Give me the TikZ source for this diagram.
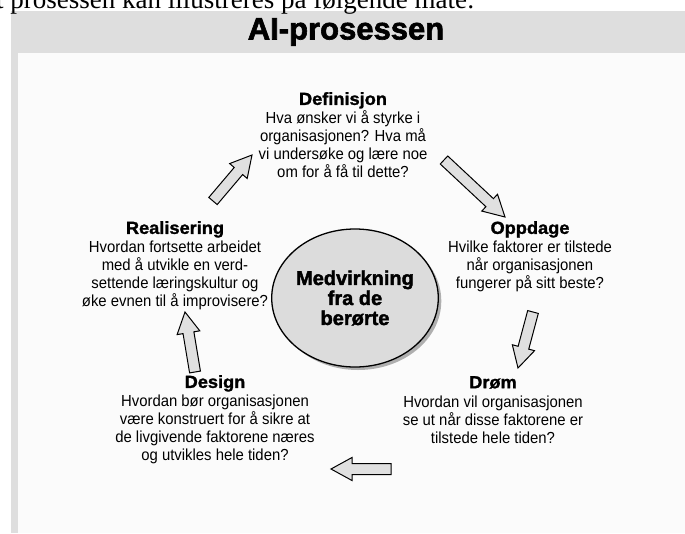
\documentclass[tikz,border=0pt]{standalone}
\usepackage{fontspec}
\setmainfont{Liberation Sans}
\newfontfamily\topserif{Liberation Serif}
\newfontfamily\bodyfam[FakeStretch=0.93]{Liberation Sans}
\newfontfamily\headfam[FakeBold=1.4,FakeStretch=1.04]{Liberation Sans Bold}
\newfontfamily\heavyfam[FakeBold=2]{Liberation Sans Bold}
\usetikzlibrary{calc,shapes.geometric,shadows}
\definecolor{bandgray}{HTML}{DEDEDE}
\definecolor{panelwhite}{HTML}{FBFBFB}
\definecolor{circgray}{HTML}{DCDCDC}
\definecolor{arrowgray}{HTML}{E0E0E0}
\tikzset{
  stagetext/.style={align=center, anchor=north, inner sep=0pt,
    font=\bodyfam\fontsize{16}{18}\selectfont},
  titletext/.style={inner sep=0pt, font=\heavyfam\fontsize{31}{34}\selectfont},
  hubnode/.style={ellipse, draw=black, line width=1.3pt, fill=circgray,
    minimum width=134pt, minimum height=138pt, inner sep=0pt, align=center,
    font=\heavyfam\fontsize{20}{20}\selectfont,
    drop shadow={shadow xshift=3pt, shadow yshift=-3pt, opacity=0.3, fill=black}},
  blockarr/.style={draw=black, fill=arrowgray, line width=1pt, line join=miter}
}
\newcommand{\hd}[1]{{\headfam\fontsize{17.5}{18}\selectfont #1}}
\newcommand{\blockarrow}[2]{%
  \coordinate (ba-h) at ($(#2)!21pt!(#1)$);
  \draw[blockarr] ($(#1)!5.5pt!90:(#2)$) -- ($(ba-h)!5.5pt!-90:(#1)$)
    -- ($(ba-h)!11.5pt!-90:(#1)$) -- (#2) -- ($(ba-h)!11.5pt!90:(#1)$)
    -- ($(ba-h)!5.5pt!90:(#1)$) -- ($(#1)!5.5pt!-90:(#2)$) -- cycle;
}
\begin{document}
\begin{tikzpicture}[x=1pt,y=-1pt]
\useasboundingbox (0,0) rectangle (685,533);
\fill[white] (0,0) rectangle (685,533);
\fill[bandgray] (11,11) rectangle (685,533);
\fill[panelwhite] (18,53) rectangle (685,533);
\node[font=\topserif\fontsize{27}{30}\selectfont, anchor=base west, inner sep=0pt] (intro) at (-4,8) {t prosessen kan illustreres på følgende måte:};
\node[titletext] (title) at (346,32) {AI-prosessen};

\node[stagetext] (def) at (343,92) {\hd{Definisjon}\\[1pt]Hva ønsker vi å styrke i\\organisasjonen? Hva må\\vi undersøke og lære noe\\om for å få til dette?};
\node[stagetext] (opp) at (530,221) {\hd{Oppdage}\\[1pt]Hvilke faktorer er tilstede\\når organisasjonen\\fungerer på sitt beste?};
\node[stagetext] (drom) at (493,376) {\hd{Drøm}\\[1pt]Hvordan vil organisasjonen\\se ut når disse faktorene er\\tilstede hele tiden?};
\node[stagetext] (des) at (215,375) {\hd{Design}\\[1pt]Hvordan bør organisasjonen\\være konstruert for å sikre at\\de livgivende faktorene næres\\og utvikles hele tiden?};
\node[stagetext] (real) at (175,221) {\hd{Realisering}\\[1pt]Hvordan fortsette arbeidet\\med å utvikle en verd-\\settende læringskultur og\\øke evnen til å improvisere?};

\node[hubnode] (hub) at (355,298) {Medvirkning\\fra de\\berørte};

\coordinate (a1s) at (213,201); \coordinate (a1e) at (252,155);
\coordinate (a2s) at (444,160); \coordinate (a2e) at (505,217);
\coordinate (a3s) at (533,312); \coordinate (a3e) at (518,368);
\coordinate (a4s) at (391,469); \coordinate (a4e) at (331,469);
\coordinate (a5s) at (195,372); \coordinate (a5e) at (185,312);
\blockarrow{a1s}{a1e}
\blockarrow{a2s}{a2e}
\blockarrow{a3s}{a3e}
\blockarrow{a4s}{a4e}
\blockarrow{a5s}{a5e}
\end{tikzpicture}
\end{document}
